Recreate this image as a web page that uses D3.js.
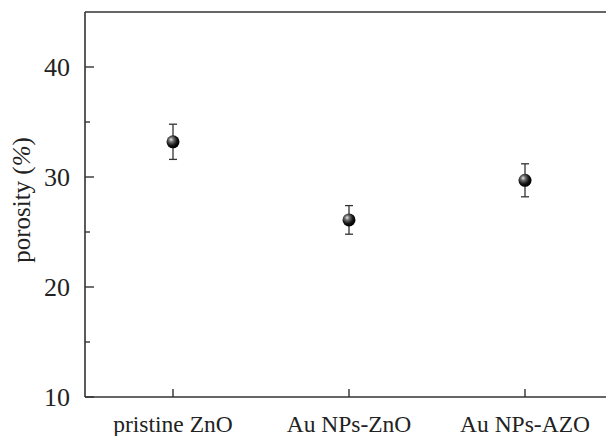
<!DOCTYPE html>
<html>
<head>
<meta charset="utf-8">
<script src="https://cdn.jsdelivr.net/npm/d3@7"></script>
<style>
  body { margin: 0; background: #fff; }
  text { font-family: "Liberation Serif", "DejaVu Serif", serif; fill: #222; }
</style>
</head>
<body>
<div id="chart"></div>
<script>
// chart data
const categories = ["pristine ZnO", "Au NPs-ZnO", "Au NPs-AZO"];
const porosity = [33.2, 26.1, 29.7];
const errors = [1.6, 1.3, 1.5];
const majorTicks = [10, 20, 30, 40];
const minorTicks = [15, 25, 35];

const W = 606, H = 436;
const margin = { top: 12, right: 0, bottom: 39, left: 85 };

const svg = d3.select("#chart").append("svg")
    .attr("width", W)
    .attr("height", H);

const x = d3.scalePoint()
    .domain(categories)
    .range([173, 525]);

const y = d3.scaleLinear()
    .domain([10, 45])
    .range([H - margin.bottom, margin.top]);

// sphere gradient for markers
const grad = svg.append("defs").append("radialGradient")
    .attr("id", "ball")
    .attr("cx", "40%").attr("cy", "38%").attr("r", "60%")
    .attr("fx", "35%").attr("fy", "32%");
grad.append("stop").attr("offset", "0%").attr("stop-color", "#e8e8e8");
grad.append("stop").attr("offset", "30%").attr("stop-color", "#707070");
grad.append("stop").attr("offset", "70%").attr("stop-color", "#151515");
grad.append("stop").attr("offset", "100%").attr("stop-color", "#000");

const axisColor = "#333";

// frame lines (left + top + bottom)
svg.append("line")
    .attr("x1", margin.left).attr("x2", margin.left)
    .attr("y1", y(45)).attr("y2", y(10))
    .attr("stroke", axisColor).attr("stroke-width", 1.6);
svg.append("line")
    .attr("x1", margin.left).attr("x2", W)
    .attr("y1", y(45)).attr("y2", y(45))
    .attr("stroke", axisColor).attr("stroke-width", 1.6);
svg.append("line")
    .attr("x1", margin.left).attr("x2", W)
    .attr("y1", y(10)).attr("y2", y(10))
    .attr("stroke", axisColor).attr("stroke-width", 1.6);

// y axis ticks (inward)
const yAxis = svg.append("g");
yAxis.selectAll(".major")
    .data(majorTicks)
    .enter().append("line")
    .attr("x1", margin.left).attr("x2", margin.left + 9)
    .attr("y1", d => y(d)).attr("y2", d => y(d))
    .attr("stroke", axisColor).attr("stroke-width", 1.4);
yAxis.selectAll(".minor")
    .data(minorTicks)
    .enter().append("line")
    .attr("x1", margin.left).attr("x2", margin.left + 5)
    .attr("y1", d => y(d)).attr("y2", d => y(d))
    .attr("stroke", axisColor).attr("stroke-width", 1.4);
yAxis.selectAll("text")
    .data(majorTicks)
    .enter().append("text")
    .attr("x", 70)
    .attr("y", d => y(d))
    .attr("dy", "0.35em")
    .attr("text-anchor", "end")
    .attr("font-size", 26)
    .text(d => d);

// x axis ticks (inward) and labels
const xAxis = svg.append("g");
xAxis.selectAll("line")
    .data(categories)
    .enter().append("line")
    .attr("x1", d => x(d)).attr("x2", d => x(d))
    .attr("y1", y(10)).attr("y2", y(10) - 8)
    .attr("stroke", axisColor).attr("stroke-width", 1.4);
xAxis.selectAll("text")
    .data(categories)
    .enter().append("text")
    .attr("x", d => x(d))
    .attr("y", 432)
    .attr("text-anchor", "middle")
    .attr("font-size", 23.5)
    .text(d => d);

// y axis title
const yTitle = svg.append("text")
    .attr("transform", "translate(30,200) rotate(-90)")
    .attr("text-anchor", "middle")
    .attr("font-size", 25);
yTitle.append("tspan").text("porosity (");
yTitle.append("tspan").attr("font-style", "italic").text("%");
yTitle.append("tspan").text(")");

// error bars
const pts = categories.map((c, i) => ({ c, v: porosity[i], e: errors[i] }));
const eb = svg.append("g").attr("stroke", "#333").attr("stroke-width", 1.3);
pts.forEach(d => {
    eb.append("line")
        .attr("x1", x(d.c)).attr("x2", x(d.c))
        .attr("y1", y(d.v + d.e)).attr("y2", y(d.v - d.e));
    eb.append("line")
        .attr("x1", x(d.c) - 4).attr("x2", x(d.c) + 4)
        .attr("y1", y(d.v + d.e)).attr("y2", y(d.v + d.e));
    eb.append("line")
        .attr("x1", x(d.c) - 4).attr("x2", x(d.c) + 4)
        .attr("y1", y(d.v - d.e)).attr("y2", y(d.v - d.e));
});

// markers
svg.selectAll(".pt")
    .data(pts)
    .enter().append("circle")
    .attr("class", "pt")
    .attr("cx", d => x(d.c))
    .attr("cy", d => y(d.v))
    .attr("r", 6.5)
    .attr("fill", "url(#ball)");
</script>
</body>
</html>
